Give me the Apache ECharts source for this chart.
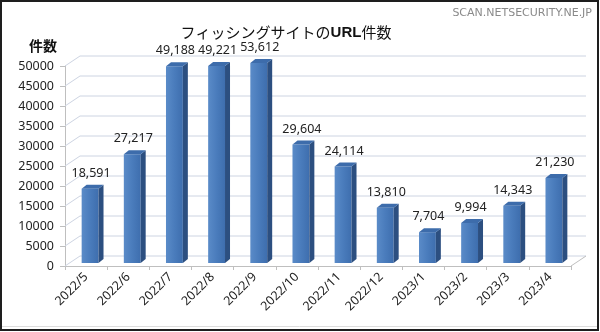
<!DOCTYPE html>
<html>
<head>
<meta charset="utf-8">
<script src="https://cdn.jsdelivr.net/npm/echarts@6/dist/echarts.min.js"></script>
<style>
  html, body { margin: 0; padding: 0; background: #fff; }
  #chart { width: 600px; height: 332px; }
</style>
</head>
<body>
<div id="chart"></div>
<script>
// Monthly counts of phishing-site URLs
const months = ['2022/5', '2022/6', '2022/7', '2022/8', '2022/9', '2022/10',
                '2022/11', '2022/12', '2023/1', '2023/2', '2023/3', '2023/4'];
const urlCounts = [18591, 27217, 49188, 49221, 53612, 29604,
                   24114, 13810, 7704, 9994, 14343, 21230];
const yTicks = [0, 5000, 10000, 15000, 20000, 25000, 30000, 35000, 40000, 45000, 50000];
const Y_MIN = 0, Y_MAX = 50000, Y_STEP = 5000;

const numFont = '"Noto Sans", "Liberation Sans", sans-serif';
const cjkFont = '"Noto Sans CJK JP", sans-serif';

// depth offsets of the pseudo-3D box (back wall vs. front axis)
const WALL_DX = 15, WALL_DY = -10;
// bar placement inside the box and bar depth
const BAR_DX = 4, BAR_DY = -3, BAR_DEPTH_X = 5, BAR_DEPTH_Y = -4;

const chart = echarts.init(document.getElementById('chart'), null, { renderer: 'canvas' });

function fmt(v) { return v.toLocaleString('en-US'); }

// back-wall gridlines, side-wall diagonals and floor edge
function renderWall(params, api) {
  const cs = params.coordSys;
  const t = api.value(1);
  const y = api.coord([0, t])[1];
  const x0 = cs.x, x1 = cs.x + cs.width;
  const style = { stroke: '#cdd4e2', lineWidth: 1, fill: null };
  const children = [{
    type: 'polyline',
    shape: { points: [[x0, y], [x0 + WALL_DX, y + WALL_DY], [x1 + WALL_DX, y + WALL_DY]] },
    style: style
  }];
  if (t === Y_MIN) {
    children.push({
      type: 'line',
      shape: { x1: x1, y1: y, x2: x1 + WALL_DX, y2: y + WALL_DY },
      style: { stroke: '#bfbfbf', lineWidth: 1 }
    });
  }
  return { type: 'group', children: children };
}

// 3D-looking column: front face, right side, top cap and value label
function renderBar(params, api) {
  const i = api.value(0);
  const v = api.value(1);
  const shown = Math.min(v, Y_MAX);
  const base = api.coord([i, 0]);
  const top = api.coord([i, shown]);
  const band = api.size([1, 0])[0];
  const fw = band * 0.4;
  const cx = base[0] + BAR_DX;
  const xl = cx - fw / 2, xr = cx + fw / 2;
  const yb = base[1] + BAR_DY, yt = top[1] + BAR_DY;
  const dx = BAR_DEPTH_X, dy = BAR_DEPTH_Y;
  return {
    type: 'group',
    children: [
      {
        type: 'rect',
        shape: { x: xl, y: yt, width: fw, height: yb - yt },
        style: {
          fill: new echarts.graphic.LinearGradient(0, 0, 1, 0, [
            { offset: 0, color: '#5a8bc8' },
            { offset: 0.5, color: '#4a7cbc' },
            { offset: 1, color: '#3e6eae' }
          ])
        }
      },
      {
        type: 'polygon',
        shape: { points: [[xr, yt], [xr + dx, yt + dy], [xr + dx, yb + dy], [xr, yb]] },
        style: { fill: '#2c4f80' }
      },
      {
        type: 'polygon',
        shape: { points: [[xl, yt], [xl + dx, yt + dy], [xr + dx, yt + dy], [xr, yt]] },
        style: { fill: '#3d6cab' }
      },
      {
        type: 'text',
        style: {
          text: fmt(v),
          x: cx + 1, y: yt + dy - 5,
          align: 'center', verticalAlign: 'bottom',
          font: '12.5px ' + numFont,
          fill: '#222'
        }
      }
    ]
  };
}

const option = {
  animation: false,
  backgroundColor: '#ffffff',
  title: {
    text: 'フィッシングサイトの{b|URL}件数',
    left: 281, top: 20, textAlign: 'center',
    textStyle: {
      fontFamily: cjkFont, fontSize: 15, fontWeight: 'normal', color: '#111',
      rich: { b: { fontFamily: '"Liberation Sans", sans-serif', fontSize: 15, fontWeight: 'bold', color: '#111' } }
    }
  },
  graphic: [
    {
      type: 'rect', silent: true, z: 100,
      shape: { x: 1, y: 1, width: 597, height: 329 },
      style: { fill: null, stroke: '#1e1e1e', lineWidth: 2 }
    },
    {
      type: 'line', silent: true,
      shape: { x1: 2, y1: 326.5, x2: 597, y2: 326.5 },
      style: { stroke: '#dddddd', lineWidth: 1 }
    },
    {
      type: 'text', silent: true,
      style: {
        text: 'SCAN.NETSECURITY.NE.JP', x: 592, y: 13,
        align: 'right', verticalAlign: 'middle',
        font: '11px "DejaVu Sans", sans-serif', fill: '#8a8a8a'
      }
    },
    {
      type: 'text', silent: true,
      style: {
        text: '件数', x: 43, y: 46,
        align: 'center', verticalAlign: 'middle',
        font: 'bold 14px ' + cjkFont, fill: '#111'
      }
    }
  ],
  grid: { left: 65, right: 29, top: 66, bottom: 66, containLabel: false },
  xAxis: {
    type: 'category',
    data: months,
    boundaryGap: true,
    axisLine: { show: true, lineStyle: { color: '#bfbfbf', width: 1 } },
    axisTick: { show: true, alignWithLabel: false, length: 4, lineStyle: { color: '#bfbfbf' } },
    axisLabel: {
      rotate: 45, margin: 9, interval: 0,
      fontFamily: numFont, fontSize: 12.5, color: '#222'
    },
    splitLine: { show: false }
  },
  yAxis: {
    type: 'value',
    min: Y_MIN, max: Y_MAX, interval: Y_STEP,
    axisLine: { show: true, lineStyle: { color: '#bfbfbf', width: 1 } },
    axisTick: { show: true, length: 5, lineStyle: { color: '#bfbfbf' } },
    axisLabel: {
      margin: 11, fontFamily: numFont, fontSize: 12.5, color: '#222',
      formatter: v => String(v)
    },
    splitLine: { show: false }
  },
  series: [
    {
      type: 'custom',
      name: 'wall',
      z: 1,
      silent: true,
      clip: false,
      renderItem: renderWall,
      data: yTicks.map(t => [0, t])
    },
    {
      type: 'custom',
      name: 'URL件数',
      z: 5,
      clip: false,
      renderItem: renderBar,
      data: urlCounts.map((v, i) => [i, v])
    }
  ]
};

chart.setOption(option);
</script>
</body>
</html>
